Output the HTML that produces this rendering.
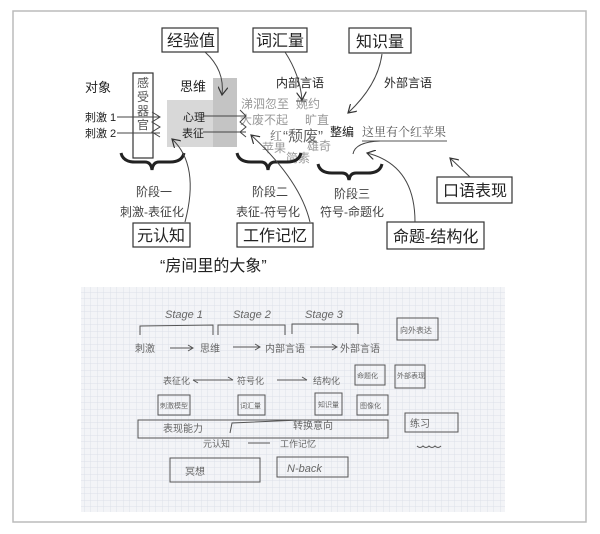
<!DOCTYPE html>
<html><head><meta charset="utf-8"><style>
html,body{margin:0;padding:0;background:#fff;}
svg{display:block;}
text{font-family:"Liberation Sans","Noto Sans CJK SC",sans-serif;}
.s{font-family:"Noto Serif CJK SC","Liberation Serif",serif;}
.h{font-family:"Liberation Serif","Noto Sans CJK SC",serif;fill:#666;font-style:italic;}
</style></head><body>
<svg width="600" height="534" viewBox="0 0 600 534" xmlns="http://www.w3.org/2000/svg">
<defs>
<pattern id="g" width="6.5" height="6.5" patternUnits="userSpaceOnUse">
<path d="M6.5 0V6.5M0 6.5H6.5" stroke="#d6dbe4" stroke-width="0.7" fill="none"/>
</pattern>
<marker id="a" markerWidth="10" markerHeight="10" refX="8" refY="5" orient="auto" markerUnits="userSpaceOnUse">
<path d="M0 0L8 5L0 10" fill="none" stroke="#333" stroke-width="1.2"/>
</marker>
</defs>
<rect x="13" y="11" width="573" height="511" fill="#fff" stroke="#bbb" stroke-width="1.5"/>

<!-- gray blocks -->
<rect x="167" y="100" width="70" height="47" fill="#d8d8d8"/>
<rect x="213" y="78" width="24" height="69" fill="#c4c4c4"/>

<!-- top boxes -->
<g fill="#fff" stroke="#333" stroke-width="1.2">
<rect x="162" y="28" width="56" height="24"/>
<rect x="253" y="28" width="54" height="24"/>
<rect x="349" y="28" width="62" height="25"/>
<rect x="437" y="177" width="75" height="26"/>
<rect x="133" y="223" width="57" height="24"/>
<rect x="237" y="223" width="76" height="24"/>
<rect x="387" y="222" width="97" height="27"/>
<rect x="133" y="73" width="20" height="85"/>
</g>
<g font-size="16" fill="#222">
<text x="167" y="46">经验值</text>
<text x="256" y="46">词汇量</text>
<text x="356" y="47">知识量</text>
<text x="443" y="196">口语表现</text>
<text x="137" y="241">元认知</text>
<text x="243" y="241">工作记忆</text>
<text x="393" y="242">命题-结构化</text>
</g>
<g font-size="12" fill="#222">
<text x="85" y="92" font-size="13">对象</text>
<text x="180" y="91" font-size="13">思维</text>
<text x="276" y="87">内部言语</text>
<text x="384" y="87">外部言语</text>
<text x="85" y="121" font-size="11">刺激 1</text>
<text x="85" y="137" font-size="11">刺激 2</text>
<text x="183" y="121" font-size="11">心理</text>
<text x="182" y="137" font-size="11">表征</text>
<text x="330" y="136" font-size="12">整编</text>
</g>
<g font-size="12" fill="#555" class="s">
<text x="137" y="87">感</text><text x="137" y="101">受</text><text x="137" y="115">器</text><text x="137" y="129">官</text>
</g>
<g class="s" fill="#999" font-size="12">
<text x="241" y="108">涕泗忽至</text>
<text x="296" y="108">婉约</text>
<text x="240" y="124">大废不起</text>
<text x="305" y="124">旷直</text>
<text x="262" y="152">苹果</text>
<text x="307" y="150">雄奇</text>
<text x="286" y="162">简素</text>
</g>
<text x="270" y="140" font-size="12" class="s" fill="#666">红</text>
<text x="283" y="141" font-size="15" fill="#666">“颓废”</text>
<text x="362" y="136" font-size="12" class="s" fill="#555">这里有个红苹果</text>
<line x1="362" y1="141" x2="447" y2="141" stroke="#555"/>

<!-- stimulus lines -->
<g stroke="#444" fill="none" stroke-width="1">
<line x1="117" y1="117" x2="160" y2="117"/>
<line x1="117" y1="133" x2="160" y2="133"/>
<path d="M152 112L160 117L152 122L160 127L152 132L160 137"/>
<line x1="203" y1="116" x2="246" y2="116"/>
<line x1="203" y1="132" x2="246" y2="132"/>
<path d="M240 110L246 116L240 122L246 127L240 132L246 137"/>
</g>

<!-- braces -->
<g stroke="#222" stroke-width="3" fill="none">
<path d="M121 153Q123 162 135 162L145 162Q151 162 152 170Q153 162 159 162L170 162Q182 162 184 153"/>
<path d="M237 153Q239 162 251 162L261 162Q267 162 268 170Q269 162 275 162L287 162Q299 162 301 153"/>
<path d="M318 164Q320 173 332 173L342 173Q348 173 349 180Q350 173 356 173L368 173Q380 173 382 164"/>
</g>
<g font-size="12" class="s" fill="#444">
<text x="136" y="196">阶段一</text>
<text x="120" y="216">刺激-表征化</text>
<text x="252" y="196">阶段二</text>
<text x="236" y="216">表征-符号化</text>
<text x="334" y="198">阶段三</text>
<text x="320" y="216">符号-命题化</text>
</g>
<text x="160" y="271" font-size="16" fill="#222">“房间里的大象”</text>

<!-- curved arrows -->
<g stroke="#444" fill="none" stroke-width="1" marker-end="url(#a)">
<path d="M205 52Q225 70 222 95"/>
<path d="M285 52Q300 75 302 100"/>
<path d="M382 54Q378 85 348 113"/>
<path d="M185 222Q200 165 172 139"/>
<path d="M310 222Q300 180 251 135"/>
<path d="M470 177L450 158"/>
<path d="M415 222Q415 165 367 153"/>
</g>
<line x1="296" y1="101" x2="306" y2="101" stroke="#444"/>
<path d="M353 154Q355 142 380 141" stroke="#444" fill="none"/>

<!-- grid paper -->
<rect x="81" y="287" width="424" height="225" fill="#f3f4f7"/>
<rect x="81" y="287" width="424" height="225" fill="url(#g)"/>
<g stroke="#555" stroke-width="1" fill="none">
<path d="M140 335V326L213 325V335"/>
<path d="M218 335V325L285 325V335"/>
<path d="M292 334V324L358 324V334"/>
<rect x="397" y="318" width="41" height="22"/>
<path d="M170 348H193M188 345L193 348L188 351"/>
<path d="M233 347H260M255 344L260 347L255 350"/>
<path d="M310 347H337M332 344L337 347L332 350"/>
<path d="M193 380H233M228 377L233 380M198 383L193 380"/>
<path d="M277 380H307M302 377L307 380"/>
<rect x="355" y="365" width="30" height="20"/>
<rect x="395" y="365" width="30" height="23"/>
<rect x="158" y="395" width="32" height="20"/>
<rect x="238" y="395" width="27" height="20"/>
<rect x="315" y="393" width="27" height="22"/>
<rect x="357" y="395" width="31" height="20"/>
<rect x="138" y="420" width="250" height="18"/>
<path d="M230 433L232 423L300 420"/>
<rect x="405" y="413" width="53" height="19"/>
<path d="M248 443H270"/>
<path d="M417 446Q420 449 423 446Q426 449 429 446Q432 449 435 446Q438 449 441 446"/>
<rect x="170" y="458" width="90" height="24"/>
<rect x="277" y="457" width="71" height="20"/>
</g>
<g class="h" font-size="11">
<text x="165" y="318">Stage 1</text>
<text x="233" y="318">Stage 2</text>
<text x="305" y="318">Stage 3</text>
<text x="287" y="472">N-back</text>
</g>
<g font-size="10" fill="#666" class="s">
<text x="400" y="333" font-size="8">向外表达</text>
<text x="135" y="352">刺激</text>
<text x="200" y="352">思维</text>
<text x="265" y="352">内部言语</text>
<text x="340" y="352">外部言语</text>
<text x="163" y="384" font-size="9">表征化</text>
<text x="237" y="384" font-size="9">符号化</text>
<text x="313" y="384" font-size="9">结构化</text>
<text x="357" y="378" font-size="7">命题化</text>
<text x="397" y="378" font-size="7">外部表现</text>
<text x="160" y="408" font-size="7">刺激模型</text>
<text x="240" y="408" font-size="7">词汇量</text>
<text x="318" y="407" font-size="7">知识量</text>
<text x="360" y="408" font-size="7">图像化</text>
<text x="163" y="432">表现能力</text>
<text x="293" y="429">转换意向</text>
<text x="410" y="427">练习</text>
<text x="203" y="447" font-size="9">元认知</text>
<text x="280" y="447" font-size="9">工作记忆</text>
<text x="185" y="475">冥想</text>
</g>
</svg>
</body></html>
